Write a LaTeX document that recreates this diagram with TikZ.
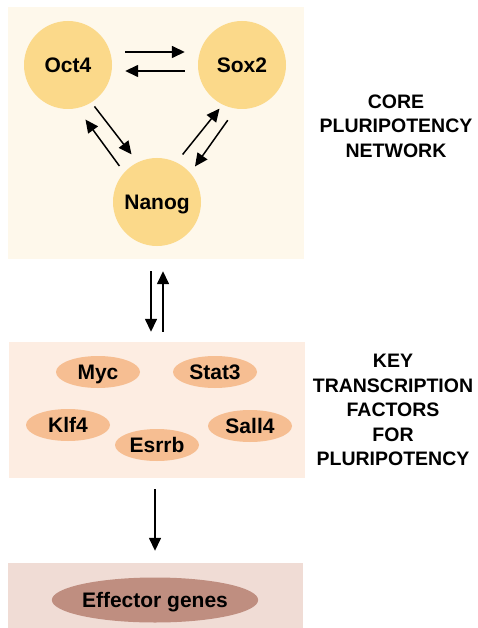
\documentclass[tikz,border=0pt]{standalone}
\usepackage{fontspec}
\setmainfont{Liberation Sans}
\usetikzlibrary{arrows.meta,shapes.geometric}
\definecolor{pncream}{HTML}{FEF8EB}
\definecolor{pnyellow}{HTML}{FBD98A}
\definecolor{pnblush}{HTML}{FDEDE2}
\definecolor{pnpeach}{HTML}{F6BE92}
\definecolor{pnrose}{HTML}{F0DCD5}
\definecolor{pnbrown}{HTML}{BF8E80}
\tikzset{
  pnpanel/.style={rectangle, draw=none, inner sep=0pt},
  pncore/.style={circle, fill=pnyellow, minimum size=88pt, inner sep=0pt, text height=15pt, text depth=0pt, font=\bfseries\fontsize{21}{24}\selectfont},
  pnfactor/.style={ellipse, fill=pnpeach, minimum width=84pt, minimum height=32pt, inner sep=0pt, text height=15pt, text depth=0pt, font=\bfseries\fontsize{21}{24}\selectfont},
  pneffect/.style={ellipse, fill=pnbrown, minimum width=204pt, minimum height=45pt, inner sep=0pt, text height=15pt, text depth=0pt, font=\bfseries\fontsize{21}{24}\selectfont},
  pnarrow/.style={line width=1.5pt, draw=black, -{Triangle[length=13pt,width=12pt]}},
  pnlabel/.style={align=center, inner sep=0pt, font=\bfseries\fontsize{19.5}{24.5}\selectfont},
}
\begin{document}
\begin{tikzpicture}[x=1pt,y=-1pt]
\useasboundingbox (0,0) rectangle (477,628);
\node[pnpanel, fill=pncream, minimum width=296pt, minimum height=252pt] (core) at (156,133) {};
\node[pnpanel, fill=pnblush, minimum width=296pt, minimum height=136pt] (keytf) at (157,410) {};
\node[pnpanel, fill=pnrose, minimum width=295pt, minimum height=65pt] (effpanel) at (155.5,595.5) {};
\node[pncore] (oct) at (68,65) {Oct4};
\node[pncore] (sox) at (242,65) {Sox2};
\node[pncore] (nanog) at (157,202) {Nanog};
\draw[pnarrow, shorten <=13pt, shorten >=13pt] ([yshift=13pt]oct.east) -- ([yshift=13pt]sox.west);
\draw[pnarrow, shorten <=13pt, shorten >=13pt] ([yshift=-6pt]sox.west) -- ([yshift=-6pt]oct.east);
\draw[pnarrow, shorten <=5pt, shorten >=10pt] (oct.-58) -- (nanog.116);
\draw[pnarrow, shorten <=8pt, shorten >=14pt] (nanog.138) -- (oct.-78);
\draw[pnarrow, shorten <=10pt, shorten >=5pt] (nanog.64) -- (sox.-116);
\draw[pnarrow, shorten <=14pt, shorten >=8pt] (sox.-98) -- (nanog.41);
\node[pnfactor] (myc) at (98,372) {Myc};
\node[pnfactor] (stat) at (215,372) {Stat3};
\node[pnfactor] (klf) at (68,425) {Klf4};
\node[pnfactor] (sall) at (250,426) {Sall4};
\node[pnfactor] (esrrb) at (157,445) {Esrrb};
\node[pneffect] (effector) at (155,600) {Effector genes};
\draw[pnarrow, shorten <=12pt, shorten >=10pt] ([xshift=-5pt]core.south) -- ([xshift=-6pt]keytf.north);
\draw[pnarrow, shorten <=10pt, shorten >=12pt] ([xshift=6pt]keytf.north) -- ([xshift=7pt]core.south);
\draw[pnarrow, shorten <=11pt, shorten >=12pt] ([xshift=-2pt]keytf.south) -- ([xshift=-0.5pt]effpanel.north);
\node[pnlabel] (corelabel) at (396,126) {CORE\\PLURIPOTENCY\\NETWORK};
\node[pnlabel] (keylabel) at (393,410) {KEY\\TRANSCRIPTION\\FACTORS\\FOR\\PLURIPOTENCY};
\end{tikzpicture}
\end{document}
